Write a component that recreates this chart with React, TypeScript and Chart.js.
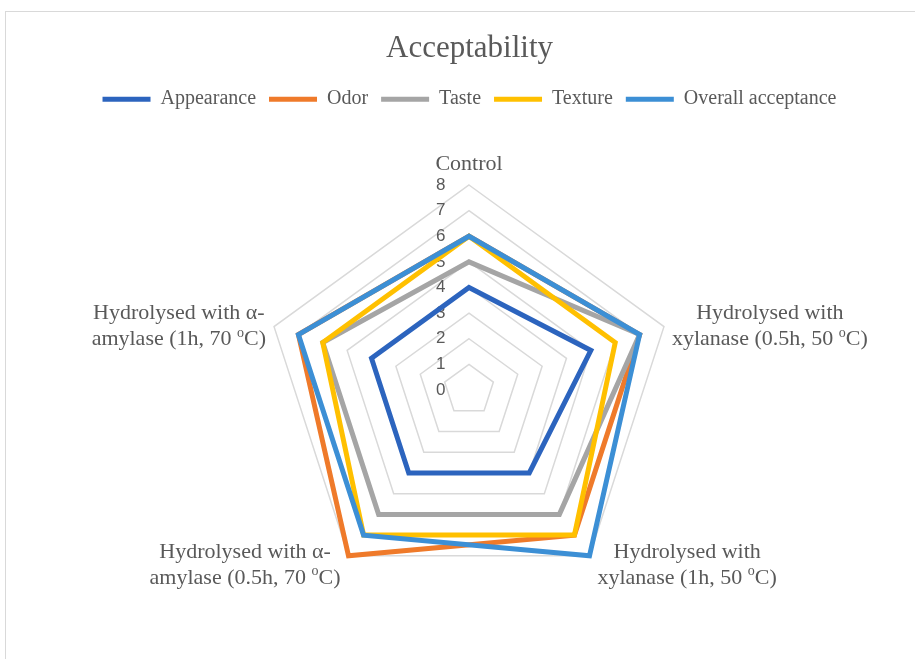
import React, { useEffect, useRef } from 'react';
import { Chart, registerables } from 'chart.js';

Chart.register(...registerables);

// ---------- data ----------
const categories: string[][] = [
  ['Control'],
  ['Hydrolysed with', 'xylanase (0.5h, 50 ᵒC)'],
  ['Hydrolysed with', 'xylanase (1h, 50 ᵒC)'],
  ['Hydrolysed with α-', 'amylase (0.5h, 70 ᵒC)'],
  ['Hydrolysed with α-', 'amylase (1h, 70 ᵒC)'],
];
const seriesNames = ['Appearance', 'Odor', 'Taste', 'Texture', 'Overall acceptance'];
const appearance = [4, 5, 4, 4, 4];
const odor = [6, 7, 7, 8, 7];
const taste = [5, 7, 6, 6, 6];
const texture = [6, 6, 7, 7, 6];
const overall = [6, 7, 8, 7, 7];
const seriesColors = ['#2C64BE', '#EF7A2A', '#A5A5A5', '#FFC000', '#3C8FD5'];
const scaleMin = 0;
const scaleMax = 8;
const chartTitle = 'Acceptability';

const TEXT = '#595959';
const SERIF = '"Liberation Serif", "Times New Roman", serif';

function splitSup(text: string) {
  return text.split('ᵒ');
}
function measureRich(ctx: CanvasRenderingContext2D, text: string, mainFont: string, supFont: string) {
  const parts = splitSup(text);
  let w = 0;
  parts.forEach((p, i) => {
    ctx.font = mainFont;
    w += ctx.measureText(p).width;
    if (i < parts.length - 1) {
      ctx.font = supFont;
      w += ctx.measureText('o').width;
    }
  });
  return w;
}
function drawRich(ctx: CanvasRenderingContext2D, text: string, cx: number, y: number, mainFont: string, supFont: string) {
  const W = measureRich(ctx, text, mainFont, supFont);
  let x = cx - W / 2;
  const parts = splitSup(text);
  ctx.textAlign = 'left';
  parts.forEach((p, i) => {
    ctx.font = mainFont;
    ctx.fillText(p, x, y);
    x += ctx.measureText(p).width;
    if (i < parts.length - 1) {
      ctx.font = supFont;
      ctx.fillText('o', x, y - 6);
      x += ctx.measureText('o').width;
    }
  });
}

const categoryLabelPlugin = {
  id: 'categoryLabels',
  afterDraw(chart: any) {
    const scale = chart.scales.r;
    const ctx: CanvasRenderingContext2D = chart.ctx;
    const R = scale.drawingArea;
    const mainFont = `22px ${SERIF}`;
    const supFont = `14px ${SERIF}`;
    const lineH = 26;
    const gap = 8;
    ctx.save();
    ctx.fillStyle = TEXT;
    ctx.textBaseline = 'middle';
    (chart.data.labels as string[][]).forEach((lab, i) => {
      const lines = Array.isArray(lab) ? lab : [lab];
      const p = scale.getPointPosition(i, R);
      const a = scale.getIndexAngle(i);
      const s = Math.sin(a);
      const c = Math.cos(a);
      const boxW = Math.max(...lines.map((t) => measureRich(ctx, t, mainFont, supFont)));
      const blockH = lines.length * lineH;
      let cx: number;
      let cy: number;
      if (Math.abs(s) < 0.1) {
        cx = p.x;
        cy = c > 0 ? p.y - gap - blockH / 2 : p.y + gap + blockH / 2;
      } else {
        cx = p.x + Math.sign(s) * (gap + boxW / 2);
        cy = p.y + 2 - 8.5 * c;
      }
      lines.forEach((t, k) => {
        const y = cy - blockH / 2 + lineH / 2 + k * lineH;
        drawRich(ctx, t, cx, y, mainFont, supFont);
      });
    });
    ctx.restore();
  },
};

export default function App() {
  const canvasRef = useRef<HTMLCanvasElement | null>(null);

  useEffect(() => {
    if (!canvasRef.current) return;
    const series = [appearance, odor, taste, texture, overall];
    // reversed so that the last series (Overall acceptance) is drawn on top
    const datasets = series
      .map((d, i) => ({
        label: seriesNames[i],
        data: d,
        borderColor: seriesColors[i],
        backgroundColor: seriesColors[i],
        borderWidth: 5,
        fill: false,
        pointRadius: 0,
        pointHoverRadius: 0,
        tension: 0,
        borderJoinStyle: 'miter' as const,
      }))
      .reverse();

    const pad = ' '.repeat(12);
    const chart = new Chart(canvasRef.current, {
      type: 'radar',
      data: { labels: categories, datasets },
      options: {
        animation: false,
        responsive: false,
        maintainAspectRatio: false,
        layout: { padding: { left: 24, right: 0, top: 0, bottom: 38 } },
        plugins: {
          title: {
            display: true,
            text: chartTitle,
            color: TEXT,
            font: { family: SERIF, size: 31, weight: 'normal' },
            padding: { top: 30, bottom: 9 },
          },
          legend: {
            display: true,
            position: 'top',
            reverse: true,
            labels: {
              color: TEXT,
              font: { family: SERIF, size: 20 },
              boxWidth: 48,
              boxHeight: 5,
              padding: 13,
              generateLabels: (ch: any) =>
                Chart.defaults.plugins.legend.labels
                  .generateLabels(ch)
                  .map((l: any) => ({ ...l, lineWidth: 0, fillStyle: l.strokeStyle })),
            },
          },
          tooltip: { enabled: false },
        },
        scales: {
          r: {
            min: scaleMin - 0.001,
            max: scaleMax,
            angleLines: { display: false },
            grid: { color: '#D9D9D9', lineWidth: 1.5 },
            pointLabels: { display: false },
            ticks: {
              stepSize: 1,
              showLabelBackdrop: false,
              backdropPadding: 57,
              color: TEXT,
              font: { family: '"Liberation Sans", Arial, sans-serif', size: 17 },
              callback: (value: any, index: number) => {
                const v = Number(value);
                const n = Math.round(v);
                if (index > 0 && Math.abs(v) < 0.01) return '';
                if (Math.abs(v - n) > 0.01) return '';
                return String(Math.abs(n)) + pad;
              },
            },
          },
        },
      },
      plugins: [categoryLabelPlugin],
    } as any);
    return () => chart.destroy();
  }, []);

  return (
    <div
      style={{
        position: 'fixed',
        left: 0,
        top: 0,
        width: 915,
        height: 659,
        overflow: 'hidden',
        background: '#ffffff',
      }}
    >
      <div
        style={{
          position: 'absolute',
          left: 5,
          top: 11,
          width: 1200,
          height: 1000,
          borderLeft: '1.5px solid #D9D9D9',
          borderTop: '1.5px solid #D9D9D9',
        }}
      />
      <canvas
        ref={canvasRef}
        width={915}
        height={700}
        style={{ position: 'absolute', left: 0, top: 0, width: 915, height: 700 }}
      />
    </div>
  );
}
